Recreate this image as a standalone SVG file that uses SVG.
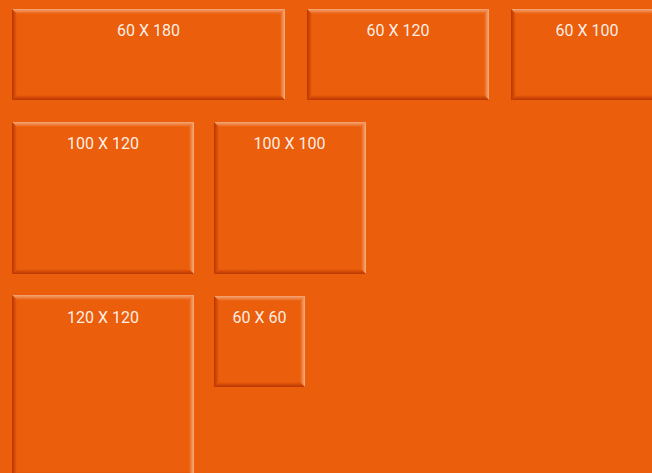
<svg xmlns="http://www.w3.org/2000/svg" width="652" height="473" viewBox="0 0 652 473">
<style>
.bg{fill:#EB5E0B}
.box{fill:#EB5E0B}
.t{fill:url(#gTop)}
.r{fill:url(#gRight)}
.b{fill:url(#gBottom)}
.l{fill:url(#gLeft)}
.lbl{font-family:Roboto,"Liberation Sans",sans-serif;font-size:16px;fill:#FFFFFF;fill-opacity:0.92;text-anchor:middle}
</style>
<defs>
<linearGradient id="gTop" x1="0" y1="0" x2="0" y2="1"><stop offset="0" stop-color="#FFFFFF" stop-opacity="0.45"/><stop offset="1" stop-color="#FFFFFF" stop-opacity="0"/></linearGradient>
<linearGradient id="gRight" x1="0" y1="0" x2="1" y2="0"><stop offset="0" stop-color="#FFFFFF" stop-opacity="0"/><stop offset="1" stop-color="#FFFFFF" stop-opacity="0.5"/></linearGradient>
<linearGradient id="gBottom" x1="0" y1="0" x2="0" y2="1"><stop offset="0" stop-color="#B02E00" stop-opacity="0"/><stop offset="1" stop-color="#B02E00" stop-opacity="0.85"/></linearGradient>
<linearGradient id="gLeft" x1="0" y1="0" x2="1" y2="0"><stop offset="0" stop-color="#B02E00" stop-opacity="0.85"/><stop offset="1" stop-color="#B02E00" stop-opacity="0"/></linearGradient>
</defs>
<rect class="bg" x="0" y="0" width="652" height="473"/>

<g id="box-60x180">
<rect class="box" x="12" y="9" width="273" height="91"/>
<polygon class="t" points="12,9 285,9 280,14 17,14"/>
<polygon class="r" points="285,9 285,100 280,95 280,14"/>
<polygon class="b" points="12,100 285,100 280,95 17,95"/>
<polygon class="l" points="12,9 12,100 17,95 17,14"/>
<text class="lbl" x="148.5" y="36">60 X 180</text>
</g>

<g id="box-60x120">
<rect class="box" x="307" y="9" width="182" height="91"/>
<polygon class="t" points="307,9 489,9 484,14 312,14"/>
<polygon class="r" points="489,9 489,100 484,95 484,14"/>
<polygon class="b" points="307,100 489,100 484,95 312,95"/>
<polygon class="l" points="307,9 307,100 312,95 312,14"/>
<text class="lbl" x="398" y="36">60 X 120</text>
</g>

<g id="box-60x100">
<rect class="box" x="511" y="9" width="152" height="91"/>
<polygon class="t" points="511,9 663,9 658,14 516,14"/>
<polygon class="r" points="663,9 663,100 658,95 658,14"/>
<polygon class="b" points="511,100 663,100 658,95 516,95"/>
<polygon class="l" points="511,9 511,100 516,95 516,14"/>
<text class="lbl" x="587" y="36">60 X 100</text>
</g>

<g id="box-100x120">
<rect class="box" x="12" y="122" width="182" height="152"/>
<polygon class="t" points="12,122 194,122 189,127 17,127"/>
<polygon class="r" points="194,122 194,274 189,269 189,127"/>
<polygon class="b" points="12,274 194,274 189,269 17,269"/>
<polygon class="l" points="12,122 12,274 17,269 17,127"/>
<text class="lbl" x="103" y="149">100 X 120</text>
</g>

<g id="box-100x100">
<rect class="box" x="214" y="122" width="152" height="152"/>
<polygon class="t" points="214,122 366,122 361,127 219,127"/>
<polygon class="r" points="366,122 366,274 361,269 361,127"/>
<polygon class="b" points="214,274 366,274 361,269 219,269"/>
<polygon class="l" points="214,122 214,274 219,269 219,127"/>
<text class="lbl" x="289.5" y="149">100 X 100</text>
</g>

<g id="box-120x120">
<rect class="box" x="12" y="295" width="182" height="182"/>
<polygon class="t" points="12,295 194,295 189,300 17,300"/>
<polygon class="r" points="194,295 194,477 189,472 189,300"/>
<polygon class="b" points="12,477 194,477 189,472 17,472"/>
<polygon class="l" points="12,295 12,477 17,472 17,300"/>
<text class="lbl" x="103" y="323">120 X 120</text>
</g>

<g id="box-60x60">
<rect class="box" x="214" y="296" width="91" height="91"/>
<polygon class="t" points="214,296 305,296 300,301 219,301"/>
<polygon class="r" points="305,296 305,387 300,382 300,301"/>
<polygon class="b" points="214,387 305,387 300,382 219,382"/>
<polygon class="l" points="214,296 214,387 219,382 219,301"/>
<text class="lbl" x="259.5" y="323">60 X 60</text>
</g>

<g id="connectors"></g>
</svg>
